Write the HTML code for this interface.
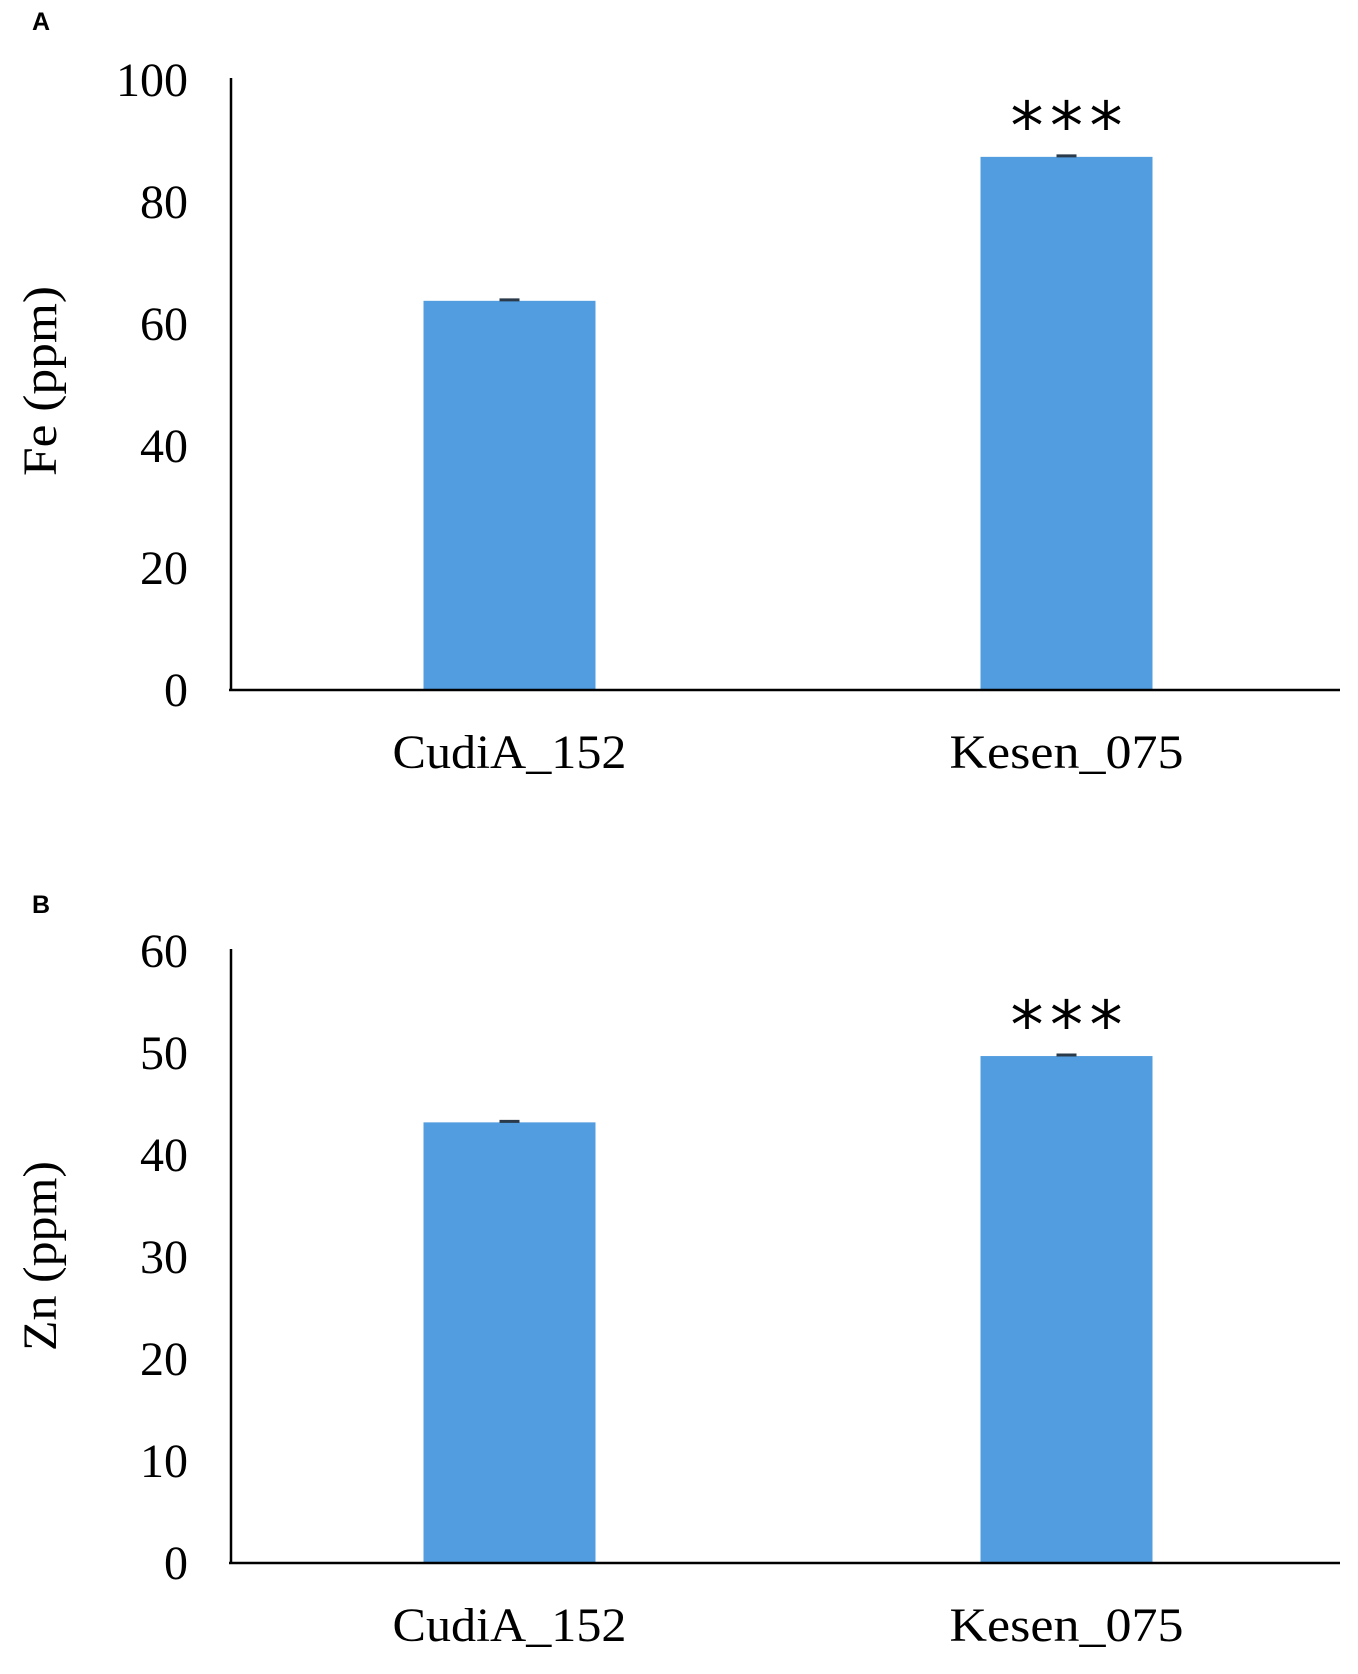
<!DOCTYPE html>
<html><head><meta charset="utf-8"><style>
html,body{margin:0;padding:0;background:#fff;}
svg{display:block;}
text{font-family:"Liberation Serif",serif;fill:#000;}
</style></head><body>
<svg id="fig" width="1358" height="1674" viewBox="0 0 1358 1674" xmlns="http://www.w3.org/2000/svg">
<text x="32" y="30" style="font-family:'Liberation Sans',sans-serif;font-weight:bold;font-size:25px">A</text>
<text x="32" y="913" style="font-family:'Liberation Sans',sans-serif;font-weight:bold;font-size:25px">B</text>
</svg>
<script>
const categories = ["CudiA_152", "Kesen_075"];
const feValues = [63.8, 87.4];
const znValues = [43.2, 49.7];
const feTicks = [0, 20, 40, 60, 80, 100];
const znTicks = [0, 10, 20, 30, 40, 50, 60];
const feSignif = ["", "***"];
const znSignif = ["", "***"];

const NS = "http://www.w3.org/2000/svg";
const svg = document.getElementById("fig");
function mk(tag, attrs, parent) {
  const e = document.createElementNS(NS, tag);
  for (const k in attrs) e.setAttribute(k, attrs[k]);
  (parent || svg).appendChild(e);
  return e;
}
function drawPanel(cfg) {
  const g = mk("g", {});
  
  
  const yMax = cfg.ticks[cfg.ticks.length - 1];
  const y = v => cfg.base - (v / yMax) * (cfg.base - cfg.top);
  const bandR = 1340;
  const bw = 557;
  const x = i => 509.5 + bw * i;
  const barW = 172;
  cfg.ticks.forEach(t => {
    const tx = mk("text", {x: 188, y: y(t) + 16, "text-anchor": "end", "font-size": 48}, g);
    tx.textContent = t;
    
    
  });
  cfg.values.forEach((v, i) => {
    const r = mk("rect", {x: x(i) - barW / 2, y: y(v), width: barW, height: cfg.base - y(v), fill: "#519de0"}, g);
    
    
    const eb = mk("line", {x1: x(i) - 10, x2: x(i) + 10, y1: y(v) - 1, y2: y(v) - 1, stroke: "#2a3a4a", "stroke-width": 3}, g);
    
    
    const cl = mk("text", {x: x(i), y: cfg.base + 78, "text-anchor": "middle", "font-size": 48, textLength: 234, lengthAdjust: "spacingAndGlyphs"}, g);
    cl.textContent = categories[i];
    
    
    if (cfg.signif[i]) {
      const s = mk("text", {x: x(i), y: y(v) - 8, "text-anchor": "middle", "font-size": 66, textLength: 112, lengthAdjust: "spacing", style: "font-family:'DejaVu Sans',sans-serif"}, g);
      s.textContent = cfg.signif[i];
      
      
    }
  });
  const ya = mk("line", {x1: 231, x2: 231, y1: cfg.top - 2, y2: cfg.base, stroke: "#000", "stroke-width": 2.5}, g);
  
  
  const xa = mk("line", {x1: 229, x2: bandR, y1: cfg.base, y2: cfg.base, stroke: "#000", "stroke-width": 2.5}, g);
  
  
  const ttl = mk("text", {x: 0, y: 0, "text-anchor": "middle", "font-size": 48, textLength: 190, lengthAdjust: "spacingAndGlyphs", transform: "translate(56," + cfg.titleY + ") rotate(-90)"}, g);
  ttl.textContent = cfg.title;
  
  
}
drawPanel({name: "fe-chart", values: feValues, ticks: feTicks, signif: feSignif, top: 80, base: 690, title: "Fe (ppm)", titleY: 381});
drawPanel({name: "zn-chart", values: znValues, ticks: znTicks, signif: znSignif, top: 951, base: 1563, title: "Zn (ppm)", titleY: 1256});
</script>
</body></html>
